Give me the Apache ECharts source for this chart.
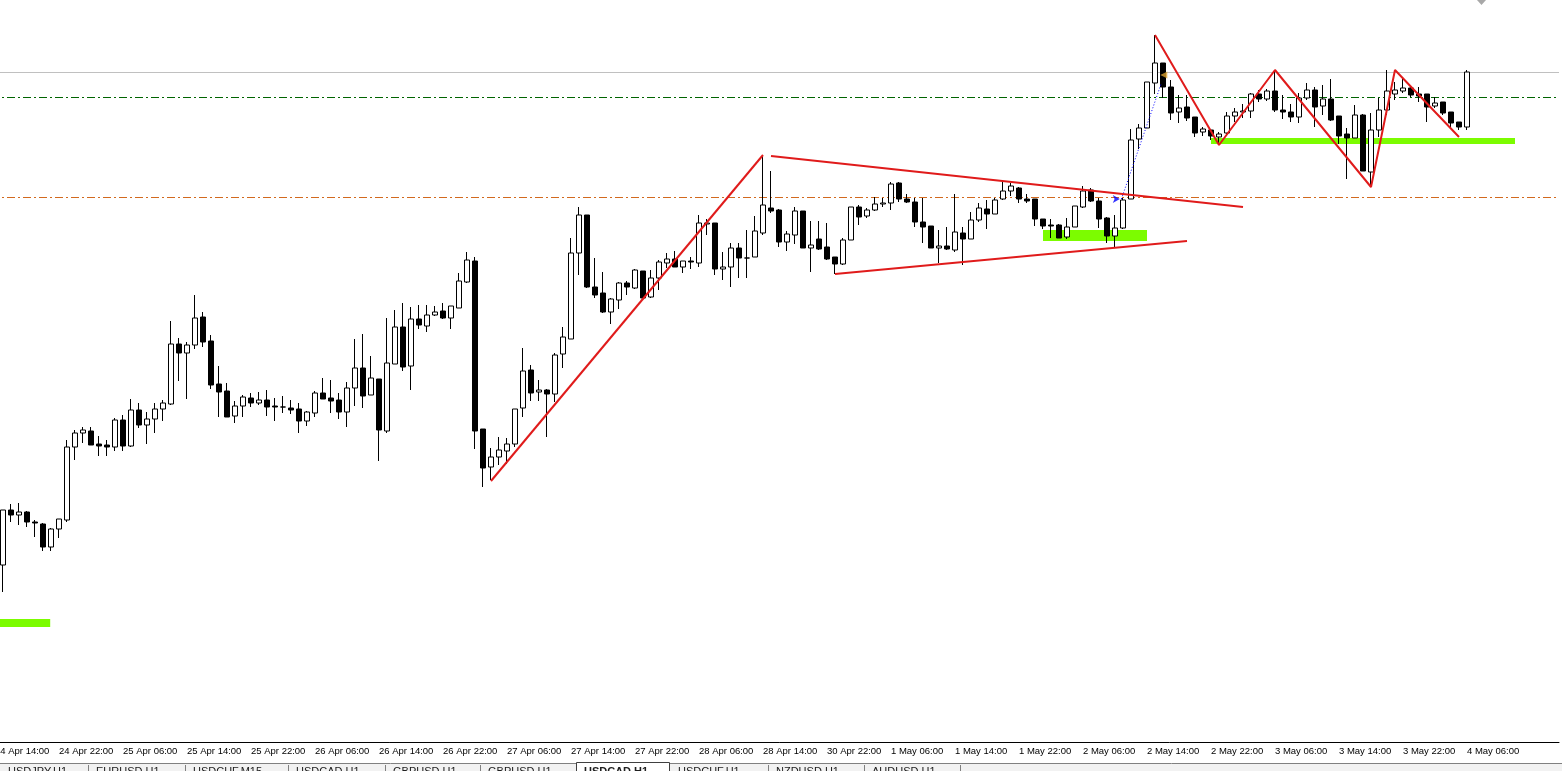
<!DOCTYPE html>
<html>
<head>
<meta charset="utf-8">
<title>USDCAD,H1</title>
<script src="https://cdn.jsdelivr.net/npm/echarts@6.0.0/dist/echarts.min.js"></script>
<style>
  html, body { margin: 0; padding: 0; background: #fff; }
  #chart { width: 1562px; height: 771px; }
</style>
</head>
<body>
<div id="chart"></div>
<script>
// H1 bars, 24 Apr 22:00 block onward, one row = 8 bars
const opens = [
  1.3435, 1.3490, 1.3485, 1.3488, 1.3478, 1.3476, 1.3453, 1.3471,
  1.3480, 1.3553, 1.3567, 1.3569, 1.3556, 1.3555, 1.3553, 1.3580,
  1.3554, 1.3590, 1.3575, 1.3581, 1.3591, 1.3596, 1.3656, 1.3647,
  1.3655, 1.3683, 1.3659, 1.3616, 1.3609, 1.3584, 1.3594, 1.3602,
  1.3597, 1.3600, 1.3594, 1.3593, 1.3592, 1.3591, 1.3579, 1.3587,
  1.3607, 1.3602, 1.3600, 1.3588, 1.3612, 1.3632, 1.3605, 1.3621,
  1.3569, 1.3636, 1.3673, 1.3634, 1.3681, 1.3674, 1.3685, 1.3689,
  1.3682, 1.3692, 1.3718, 1.3739, 1.3571, 1.3533, 1.3543, 1.3549,
  1.3556, 1.3592, 1.3630, 1.3608, 1.3610, 1.3606, 1.3646, 1.3661,
  1.3747, 1.3785, 1.3713, 1.3707, 1.3688, 1.3700, 1.3717, 1.3712,
  1.3729, 1.3703, 1.3722, 1.3737, 1.3741, 1.3733, 1.3739, 1.3737,
  1.3776, 1.3777, 1.3731, 1.3733, 1.3752, 1.3742, 1.3743, 1.3767,
  1.3792, 1.3790, 1.3758, 1.3765, 1.3789, 1.3752, 1.3761, 1.3753,
  1.3743, 1.3736, 1.3760, 1.3793, 1.3784, 1.3790, 1.3796, 1.3797,
  1.3817, 1.3801, 1.3798, 1.3778, 1.3774, 1.3752, 1.3754, 1.3750,
  1.3767, 1.3761, 1.3780, 1.3791, 1.3786, 1.3801, 1.3809, 1.3812,
  1.3801, 1.3801, 1.3781, 1.3775, 1.3775, 1.3763, 1.3773, 1.3793,
  1.3810, 1.3799, 1.3782, 1.3764, 1.3772, 1.3801, 1.3861, 1.3872,
  1.3917, 1.3937, 1.3913, 1.3888, 1.3893, 1.3883, 1.3868, 1.3870,
  1.3863, 1.3867, 1.3884, 1.3888, 1.3889, 1.3906, 1.3901, 1.3909,
  1.3890, 1.3888, 1.3883, 1.3902, 1.3910, 1.3894, 1.3901, 1.3884,
  1.3866, 1.3862, 1.3885, 1.3828, 1.3870, 1.3890, 1.3906, 1.3909,
  1.3912, 1.3906, 1.3906, 1.3894, 1.3898, 1.3888, 1.3878, 1.3873
];
const closes = [
  1.3490, 1.3485, 1.3488, 1.3478, 1.3477, 1.3453, 1.3471, 1.3481,
  1.3553, 1.3567, 1.3570, 1.3555, 1.3554, 1.3553, 1.3580, 1.3554,
  1.3590, 1.3575, 1.3581, 1.3591, 1.3597, 1.3656, 1.3647, 1.3655,
  1.3682, 1.3658, 1.3615, 1.3608, 1.3583, 1.3594, 1.3603, 1.3597,
  1.3600, 1.3593, 1.3593, 1.3593, 1.3590, 1.3579, 1.3588, 1.3607,
  1.3601, 1.3599, 1.3588, 1.3612, 1.3632, 1.3604, 1.3622, 1.3570,
  1.3637, 1.3673, 1.3633, 1.3681, 1.3675, 1.3685, 1.3688, 1.3682,
  1.3694, 1.3719, 1.3740, 1.3569, 1.3532, 1.3543, 1.3550, 1.3556,
  1.3591, 1.3629, 1.3607, 1.3610, 1.3606, 1.3645, 1.3663, 1.3747,
  1.3785, 1.3713, 1.3705, 1.3688, 1.3701, 1.3717, 1.3713, 1.3730,
  1.3702, 1.3722, 1.3738, 1.3741, 1.3733, 1.3739, 1.3738, 1.3777,
  1.3777, 1.3731, 1.3733, 1.3752, 1.3742, 1.3742, 1.3769, 1.3795,
  1.3789, 1.3758, 1.3766, 1.3789, 1.3752, 1.3755, 1.3751, 1.3741,
  1.3736, 1.3760, 1.3793, 1.3783, 1.3790, 1.3796, 1.3797, 1.3816,
  1.3801, 1.3798, 1.3778, 1.3773, 1.3752, 1.3754, 1.3751, 1.3768,
  1.3761, 1.3780, 1.3792, 1.3786, 1.3800, 1.3809, 1.3814, 1.3801,
  1.3799, 1.3781, 1.3774, 1.3774, 1.3762, 1.3773, 1.3794, 1.3809,
  1.3799, 1.3781, 1.3764, 1.3772, 1.3800, 1.3860, 1.3872, 1.3918,
  1.3937, 1.3913, 1.3887, 1.3892, 1.3882, 1.3867, 1.3871, 1.3864,
  1.3866, 1.3884, 1.3888, 1.3889, 1.3906, 1.3901, 1.3909, 1.3890,
  1.3888, 1.3883, 1.3902, 1.3910, 1.3893, 1.3901, 1.3880, 1.3864,
  1.3862, 1.3885, 1.3829, 1.3870, 1.3890, 1.3909, 1.3910, 1.3912,
  1.3905, 1.3904, 1.3893, 1.3897, 1.3887, 1.3877, 1.3873, 1.3928
];
const lows = [
  1.3408, 1.3478, 1.3475, 1.3473, 1.3463, 1.3449, 1.3449, 1.3462,
  1.3478, 1.3540, 1.3557, 1.3555, 1.3544, 1.3544, 1.3549, 1.3549,
  1.3553, 1.3572, 1.3556, 1.3567, 1.3579, 1.3595, 1.3619, 1.3601,
  1.3651, 1.3653, 1.3611, 1.3583, 1.3583, 1.3577, 1.3583, 1.3593,
  1.3595, 1.3584, 1.3579, 1.3587, 1.3586, 1.3567, 1.3574, 1.3583,
  1.3601, 1.3587, 1.3581, 1.3573, 1.3594, 1.3592, 1.3605, 1.3539,
  1.3567, 1.3636, 1.3629, 1.3610, 1.3671, 1.3668, 1.3684, 1.3681,
  1.3671, 1.3692, 1.3717, 1.3551, 1.3513, 1.3520, 1.3535, 1.3536,
  1.3553, 1.3583, 1.3599, 1.3599, 1.3563, 1.3598, 1.3632, 1.3661,
  1.3725, 1.3712, 1.3702, 1.3687, 1.3676, 1.3691, 1.3705, 1.3711,
  1.3702, 1.3702, 1.3710, 1.3732, 1.3733, 1.3727, 1.3731, 1.3733,
  1.3765, 1.3725, 1.3720, 1.3713, 1.3722, 1.3722, 1.3743, 1.3765,
  1.3787, 1.3753, 1.3749, 1.3756, 1.3752, 1.3728, 1.3750, 1.3740,
  1.3726, 1.3735, 1.3760, 1.3775, 1.3782, 1.3789, 1.3793, 1.3790,
  1.3798, 1.3797, 1.3773, 1.3757, 1.3752, 1.3737, 1.3750, 1.3748,
  1.3735, 1.3761, 1.3778, 1.3771, 1.3786, 1.3800, 1.3804, 1.3797,
  1.3797, 1.3774, 1.3771, 1.3762, 1.3762, 1.3761, 1.3773, 1.3792,
  1.3798, 1.3772, 1.3757, 1.3753, 1.3771, 1.3801, 1.3851, 1.3872,
  1.3906, 1.3902, 1.3880, 1.3877, 1.3879, 1.3863, 1.3864, 1.3860,
  1.3855, 1.3864, 1.3878, 1.3882, 1.3882, 1.3898, 1.3899, 1.3888,
  1.3881, 1.3878, 1.3877, 1.3900, 1.3873, 1.3885, 1.3879, 1.3856,
  1.3821, 1.3862, 1.3829, 1.3815, 1.3863, 1.3885, 1.3900, 1.3907,
  1.3903, 1.3898, 1.3878, 1.3892, 1.3885, 1.3872, 1.3870, 1.3870
];
const highs = [
  1.3490, 1.3496, 1.3497, 1.3489, 1.3480, 1.3477, 1.3472, 1.3481,
  1.3560, 1.3570, 1.3573, 1.3573, 1.3564, 1.3560, 1.3582, 1.3585,
  1.3601, 1.3597, 1.3588, 1.3597, 1.3600, 1.3679, 1.3662, 1.3658,
  1.3705, 1.3688, 1.3665, 1.3634, 1.3617, 1.3599, 1.3605, 1.3607,
  1.3608, 1.3610, 1.3602, 1.3604, 1.3600, 1.3597, 1.3589, 1.3609,
  1.3622, 1.3620, 1.3607, 1.3618, 1.3661, 1.3666, 1.3644, 1.3621,
  1.3682, 1.3690, 1.3697, 1.3693, 1.3695, 1.3695, 1.3694, 1.3697,
  1.3694, 1.3727, 1.3748, 1.3743, 1.3571, 1.3552, 1.3563, 1.3562,
  1.3591, 1.3652, 1.3635, 1.3620, 1.3611, 1.3647, 1.3673, 1.3762,
  1.3793, 1.3785, 1.3742, 1.3728, 1.3702, 1.3718, 1.3719, 1.3731,
  1.3729, 1.3730, 1.3740, 1.3747, 1.3749, 1.3739, 1.3743, 1.3785,
  1.3781, 1.3777, 1.3748, 1.3757, 1.3757, 1.3770, 1.3784, 1.3845,
  1.3829, 1.3791, 1.3769, 1.3793, 1.3789, 1.3779, 1.3779, 1.3777,
  1.3743, 1.3762, 1.3793, 1.3795, 1.3792, 1.3803, 1.3802, 1.3818,
  1.3818, 1.3806, 1.3802, 1.3802, 1.3774, 1.3770, 1.3773, 1.3806,
  1.3773, 1.3788, 1.3797, 1.3800, 1.3802, 1.3818, 1.3817, 1.3813,
  1.3806, 1.3801, 1.3781, 1.3781, 1.3776, 1.3782, 1.3794, 1.3814,
  1.3812, 1.3802, 1.3783, 1.3785, 1.3802, 1.3871, 1.3876, 1.3918,
  1.3965, 1.3937, 1.3920, 1.3905, 1.3905, 1.3883, 1.3873, 1.3871,
  1.3868, 1.3888, 1.3892, 1.3896, 1.3907, 1.3910, 1.3911, 1.3930,
  1.3905, 1.3896, 1.3907, 1.3917, 1.3913, 1.3915, 1.3921, 1.3884,
  1.3872, 1.3895, 1.3886, 1.3887, 1.3902, 1.3930, 1.3918, 1.3922,
  1.3913, 1.3913, 1.3906, 1.3903, 1.3898, 1.3888, 1.3878, 1.3930
];

// one label every 8 bars, starting at the bar just left of the window
const tickLabels = [
  '24 Apr 14:00', '24 Apr 22:00', '25 Apr 06:00', '25 Apr 14:00', '25 Apr 22:00',
  '26 Apr 06:00', '26 Apr 14:00', '26 Apr 22:00', '27 Apr 06:00', '27 Apr 14:00',
  '27 Apr 22:00', '28 Apr 06:00', '28 Apr 14:00', '30 Apr 22:00', '1 May 06:00',
  '1 May 14:00', '1 May 22:00', '2 May 06:00', '2 May 14:00', '2 May 22:00',
  '3 May 06:00', '3 May 14:00', '3 May 22:00', '4 May 06:00'
];

// horizontal levels
const bidLevel = 1.39275;
const greenLevel = 1.39025;
const orangeLevel = 1.38025;

// drawn objects, [bar slot, price]
const riseLine = [[62, 1.3519], [96, 1.3845]];
const upperLine = [[97, 1.3844], [156, 1.3793]];
const lowerLine = [[105, 1.3726], [149, 1.3759]];
const zigzag = [[145, 1.3965], [153, 1.3855], [160, 1.3930], [172, 1.3813], [175, 1.3930], [183, 1.3863]];
const tradeLine = [[140.8, 1.3801], [145.8, 1.3917]];
const tradeOpen = [[140.6, 1.3801]];
const tradeClose = [[146.1, 1.3925]];

// green zones: [from slot, to slot, top price, bottom price]
const greenZones = [
  [0.6, 6.9, 1.3381, 1.3373],
  [131, 144, 1.3770, 1.3759],
  [152, 190, 1.3862, 1.3856]
];

const tabs = [
  ['USDJPY,H1', 0, 88], ['EURUSD,H1', 88, 185], ['USDCHF,M15', 185, 288],
  ['USDCAD,H1', 288, 385], ['GBPUSD,H1', 385, 480], ['GBPUSD,H1', 480, 576],
  ['USDCAD,H1', 576, 670], ['USDCHF,H1', 670, 768], ['NZDUSD,H1', 768, 864],
  ['AUDUSD,H1', 864, 960]
];
const activeTab = 6;

const SLOTS = 196; // slot 0 is off screen, bars 1..184, then empty shift area
const categories = Array.from({ length: SLOTS }, (_, i) => String(i));
const candles = [['-', '-', '-', '-']].concat(opens.map((o, i) => [o, closes[i], lows[i], highs[i]]));
const isTick = (i) => i % 8 === 0 && i / 8 < tickLabels.length;

const chart = echarts.init(document.getElementById('chart'));

function redLine(points) {
  return {
    type: 'line', xAxisIndex: 1, data: points, symbol: 'none', silent: true, z: 5,
    lineStyle: { color: '#e01b1b', width: 2 }
  };
}

// full width price level
function level(price, color, type) {
  return {
    type: 'line', xAxisIndex: 1, data: [[-0.5, price], [SLOTS - 0.5, price]],
    symbol: 'none', silent: true, z: 1,
    lineStyle: { color: color, width: 1, type: type }
  };
}

// tab strip under the time axis
const tabGraphics = [
  { type: 'rect', shape: { x: 0, y: 764, width: 1562, height: 7 }, style: { fill: '#f2f2f2' } },
  { type: 'line', shape: { x1: 0, y1: 763.5, x2: 1562, y2: 763.5 }, style: { stroke: '#808080', lineWidth: 1 } }
];
tabs.forEach(([name, x0, x1], i) => {
  if (i === activeTab) {
    tabGraphics.push({ type: 'rect', shape: { x: x0 + 0.5, y: 762.5, width: x1 - x0 - 1, height: 10 },
      style: { fill: '#fff', stroke: '#404040', lineWidth: 1 } });
  } else {
    tabGraphics.push({ type: 'line', shape: { x1: x1 + 0.5, y1: 765, x2: x1 + 0.5, y2: 771 },
      style: { stroke: '#808080', lineWidth: 1 } });
  }
  tabGraphics.push({ type: 'text', x: x0 + 8, y: 766,
    style: { text: name, fill: '#202020', font: (i === activeTab ? 'bold ' : '') + '11px "Liberation Sans"' } });
});
// chart shift marker
tabGraphics.push({ type: 'polygon', shape: { points: [[1477, 0], [1486, 0], [1481.5, 5]] }, style: { fill: '#a8a8a8' } });

chart.setOption({
  animation: false,
  backgroundColor: '#fff',
  grid: { left: -9, width: 1568, top: 0, height: 742, outerBoundsMode: 'none' },
  xAxis: [
    {
      type: 'category',
      data: categories,
      boundaryGap: true,
      axisLine: { lineStyle: { color: '#000', width: 1 } },
      axisTick: { alignWithLabel: true, interval: isTick, length: 5, lineStyle: { color: '#000' } },
      axisLabel: {
        interval: isTick,
        formatter: (v, i) => tickLabels[i / 8],
        align: 'left',
        margin: 4,
        color: '#000',
        fontSize: 9.5,
        fontFamily: 'Liberation Sans'
      },
      splitLine: { show: false }
    },
    { type: 'value', min: -0.5, max: SLOTS - 0.5, show: false }
  ],
  yAxis: { type: 'value', min: 1.3258, max: 1.4000, show: false, splitLine: { show: false } },
  graphic: tabGraphics,
  series: [
    level(bidLevel, '#c0c0c0', 'solid'),
    level(greenLevel, '#006400', [8, 3, 2, 3]),
    level(orangeLevel, '#d2691e', [8, 3, 2, 3]),
    {
      type: 'line', xAxisIndex: 1, data: [], silent: true, z: 1,
      markArea: {
        silent: true,
        itemStyle: { color: '#7cfc00' },
        data: greenZones.map(([a, b, top, bottom]) => [{ coord: [a, top] }, { coord: [b, bottom] }])
      }
    },
    {
      type: 'candlestick',
      data: candles,
      barWidth: 5,
      z: 3,
      itemStyle: { color: '#fff', color0: '#000', borderColor: '#000', borderColor0: '#000', borderWidth: 1 }
    },
    redLine(riseLine),
    redLine(upperLine),
    redLine(lowerLine),
    redLine(zigzag),
    {
      type: 'line', xAxisIndex: 1, data: tradeLine, silent: true, z: 4, symbol: 'none',
      lineStyle: { color: '#0000ff', width: 1, type: [1, 2] }
    },
    {
      type: 'scatter', xAxisIndex: 1, data: tradeOpen, silent: true, z: 4,
      symbol: 'arrow', symbolSize: [6, 7], symbolRotate: -90,
      itemStyle: { color: '#0000ff' }
    },
    {
      type: 'scatter', xAxisIndex: 1, data: tradeClose, silent: true, z: 4,
      symbol: 'triangle', symbolSize: [7, 7], symbolRotate: 90,
      itemStyle: { color: '#d9a030' }
    }
  ]
});
</script>
</body>
</html>
